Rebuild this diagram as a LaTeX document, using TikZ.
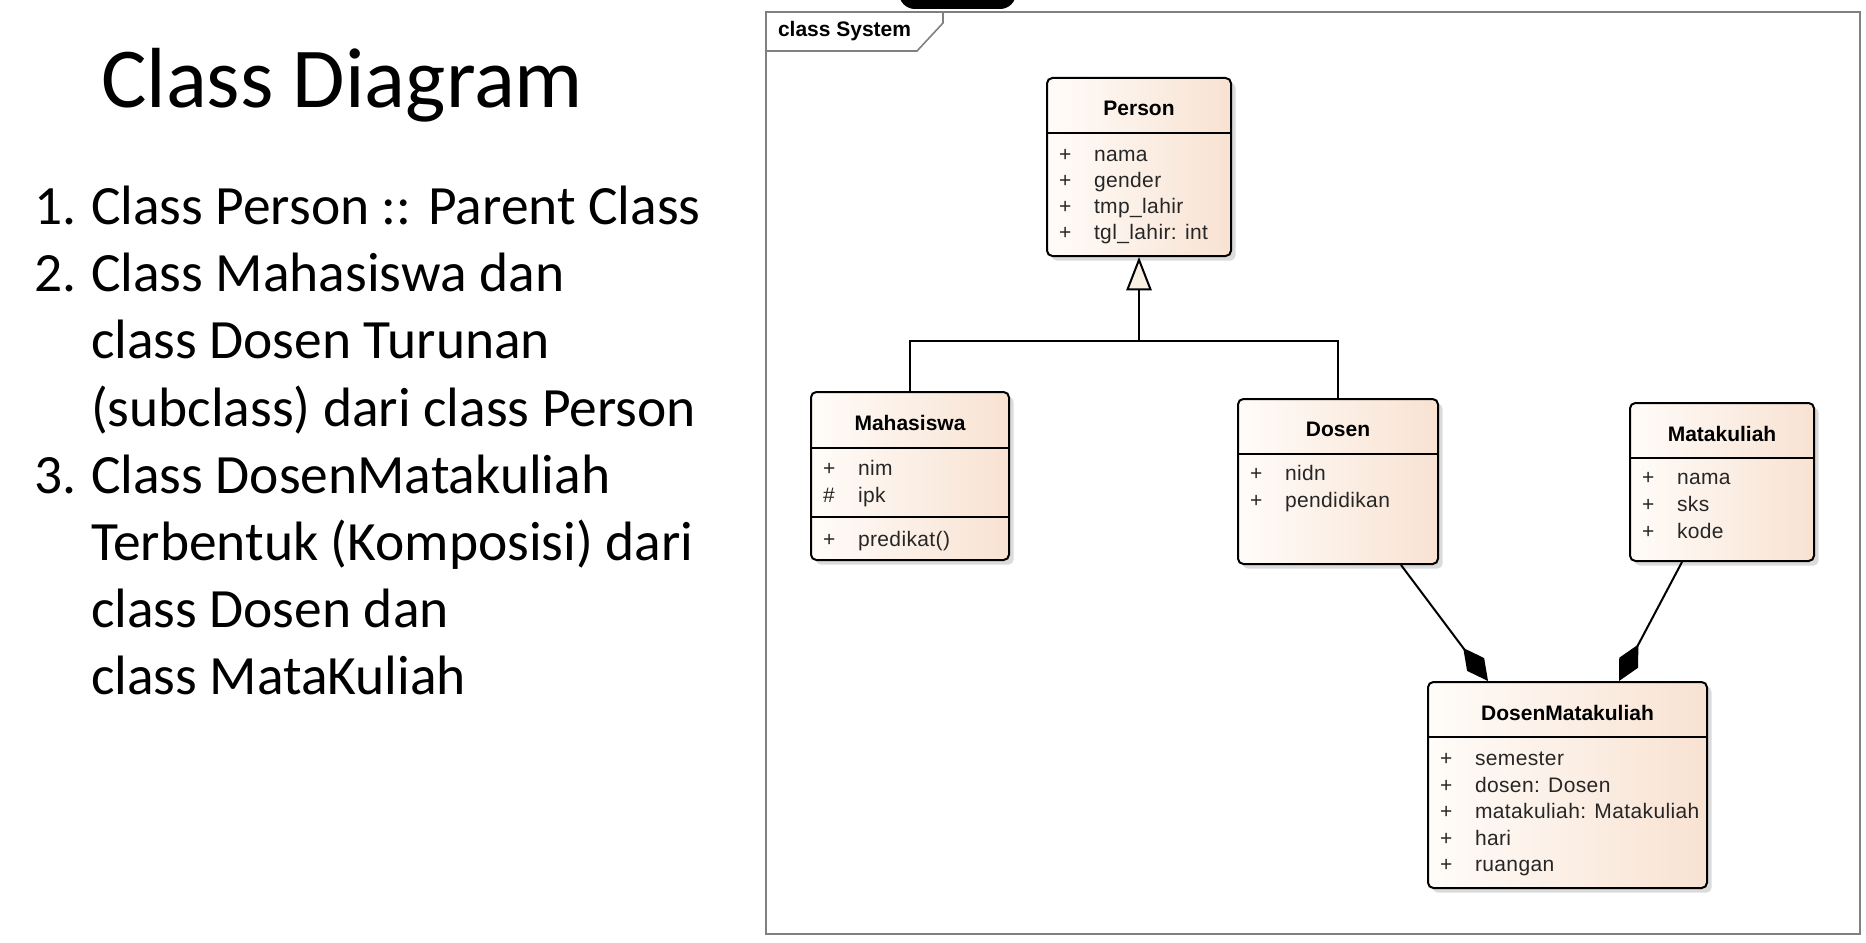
\documentclass[tikz,border=0pt]{standalone}
\usepackage{fontspec}
\setmainfont{Liberation Sans}
\newfontfamily\slidefont{Carlito}
\newfontfamily\attrfont[LetterSpace=1.8]{Liberation Sans}
\usetikzlibrary{arrows.meta,shadows}

\definecolor{umlLeft}{RGB}{255,252,249}
\definecolor{umlRight}{RGB}{248,226,210}
\definecolor{frameGray}{RGB}{128,128,128}
\definecolor{genFill}{RGB}{250,240,226}

\tikzset{every picture/.style={line width=1.5pt}}
\tikzset{
  umlclass/.style={draw, rounded corners=4pt, left color=umlLeft, right color=umlRight, inner sep=0pt,
    drop shadow={shadow xshift=3.5pt, shadow yshift=-3.5pt, fill=black!14, opacity=1}},
  clsname/.style={anchor=base, inner sep=0pt, font=\fontsize{15.75}{19}\selectfont\bfseries},
  attr/.style={anchor=base west, inner sep=0pt, font=\attrfont\fontsize{15.75}{19}\selectfont, text=black!85},
  slide/.style={anchor=base west, inner sep=0pt, font=\slidefont\fontsize{41.6}{50}\selectfont},
}

\begin{document}
\begin{tikzpicture}[x=0.75pt,y=0.75pt,yscale=-1,xscale=1]
\useasboundingbox (0,0) rectangle (1866,942);

% Text Node
\node[anchor=base west, inner sep=0pt, font=\slidefont\fontsize{64}{70}\selectfont] (title) at (100,108) {Class Diagram};
% Text Node
\node[slide] (n1) at (33,224) {1.};
\node[slide] (t1) at (90,224) {Class Person :: Parent Class};
\node[slide] (n2) at (33,291) {2.};
\node[slide] (t2) at (90,291) {Class Mahasiswa dan};
\node[slide] (t3) at (90,358) {class Dosen Turunan};
\node[slide] (t4) at (90,426) {(subclass) dari class Person};
\node[slide] (n3) at (33,493) {3.};
\node[slide] (t5) at (90,493) {Class DosenMatakuliah};
\node[slide] (t6) at (90,560) {Terbentuk (Komposisi) dari};
\node[slide] (t7) at (90,627) {class Dosen dan};
\node[slide] (t8) at (90,694) {class MataKuliah};

%Shape: Black tag, cut off at the top
\fill[black, rounded corners=12pt] (899,-25) rectangle (1016,9);
%Shape: Frame
\draw[frameGray, line width=1.2pt] (766,12) rectangle (1860,934);
\draw[frameGray, line width=1.2pt] (766,51) -- (917,51) -- (943,23) -- (943,12);
% Text Node
\node[clsname, anchor=base west] (frameT) at (777,37) {class System};

%Shape: Class Person
\node[umlclass, minimum width=138pt, minimum height=133.5pt] (person) at (1139,167) {};
\draw (person.west |- 0,133) -- (person.east |- 0,133);
\node[clsname] (personT) at (1139,115) {Person};
\node[attr] at (1058,161) {+};
\node[attr] at (1093,161) {nama};
\node[attr] at (1058,187) {+};
\node[attr] at (1093,187) {gender};
\node[attr] at (1058,213) {+};
\node[attr] at (1093,213) {tmp\_lahir};
\node[attr] at (1058,239) {+};
\node[attr] at (1093,239) {tgl\_lahir: int};

%Shape: Class Mahasiswa
\node[umlclass, minimum width=148.5pt, minimum height=126pt] (maha) at (910,476) {};
\draw (maha.west |- 0,448) -- (maha.east |- 0,448);
\draw (maha.west |- 0,517) -- (maha.east |- 0,517);
\node[clsname] (mahaT) at (910,430) {Mahasiswa};
\node[attr] at (822,475) {+};
\node[attr] at (857,475) {nim};
\node[attr] at (822,502) {\#};
\node[attr] at (857,502) {ipk};
\node[attr] at (822,546) {+};
\node[attr] at (857,546) {predikat()};

%Shape: Class Dosen
\node[umlclass, minimum width=150pt, minimum height=123.75pt] (dosen) at (1338,481.5) {};
\draw (dosen.west |- 0,454) -- (dosen.east |- 0,454);
\node[clsname] (dosenT) at (1338,436) {Dosen};
\node[attr] at (1249,480) {+};
\node[attr] at (1284,480) {nidn};
\node[attr] at (1249,507) {+};
\node[attr] at (1284,507) {pendidikan};

%Shape: Class Matakuliah
\node[umlclass, minimum width=138pt, minimum height=118.5pt] (matkul) at (1722,482) {};
\draw (matkul.west |- 0,458) -- (matkul.east |- 0,458);
\node[clsname] (matkulT) at (1722,441) {Matakuliah};
\node[attr] at (1641,484) {+};
\node[attr] at (1676,484) {nama};
\node[attr] at (1641,511) {+};
\node[attr] at (1676,511) {sks};
\node[attr] at (1641,538) {+};
\node[attr] at (1676,538) {kode};

%Shape: Class DosenMatakuliah
\node[umlclass, minimum width=209.25pt, minimum height=154.5pt] (dosmk) at (1567.5,785) {};
\draw (dosmk.west |- 0,737) -- (dosmk.east |- 0,737);
\node[clsname] (dosmkT) at (1567.5,720) {DosenMatakuliah};
\node[attr] at (1439,765) {+};
\node[attr] at (1474,765) {semester};
\node[attr] at (1439,792) {+};
\node[attr] at (1474,792) {dosen: Dosen};
\node[attr] at (1439,818) {+};
\node[attr] at (1474,818) {matakuliah: Matakuliah};
\node[attr] at (1439,845) {+};
\node[attr] at (1474,845) {hari};
\node[attr] at (1439,871) {+};
\node[attr] at (1474,871) {ruangan};

%Straight Lines: generalization
\coordinate (genJoin) at (1139,341);
\draw[-{Triangle[length=25pt,width=19pt,fill=genFill]}] (maha.north) |- (genJoin) -- (person.south);
\draw (dosen.north) |- (genJoin);

%Straight Lines: composition
\draw[-{Diamond[length=31pt,width=16pt]}] (dosen.south -| 1401,0) -- (dosmk.north -| 1488,0);
\draw[-{Diamond[length=31pt,width=16pt]}] (matkul.south -| 1682,0) -- (dosmk.north -| 1619,0);

\end{tikzpicture}
\end{document}
